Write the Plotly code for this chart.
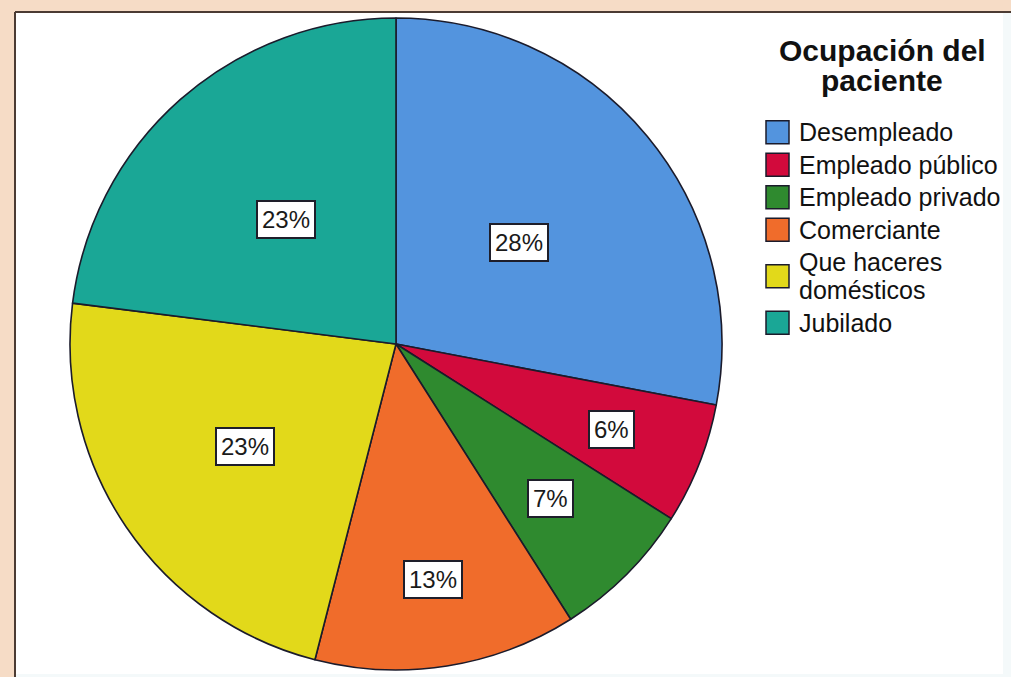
import math
import plotly.graph_objects as go

# Occupation of the patients (percent of total)
categories = ["Desempleado", "Empleado público", "Empleado privado",
              "Comerciante", "Que haceres\ndomésticos", "Jubilado"]
values = [28, 6, 7, 13, 23, 23]
legend_title = ["Ocupación del", "paciente"]

colors = ["#5394de", "#d20a3c", "#2f8a2f", "#f06c2b", "#e2d91a", "#1aa796"]
# radial placement of each percentage box, as a fraction of the pie radius
label_radius = [0.49, 0.71, 0.67, 0.73, 0.56, 0.51]

W, H = 1011, 677
CX, CY, R = 396, 344, 326  # pie centre / radius in pixels (y measured downward)


def px(x):
    return x / W


def py(y):
    return 1 - y / H


fig = go.Figure()
fig.add_trace(go.Pie(
    labels=[c.replace("\n", " ") for c in categories],
    values=values,
    sort=False,
    direction="clockwise",
    rotation=0,
    marker=dict(colors=colors, line=dict(color="#1b1b2b", width=1.6)),
    textinfo="none",
    hoverinfo="label+percent",
    showlegend=False,
    domain=dict(x=[px(CX - R), px(CX + R)], y=[py(CY + R), py(CY - R)]),
))

shapes = []
annotations = []

# page frame: peach surround, dark rule on top/left, white plotting area
shapes.append(dict(type="rect", xref="paper", yref="paper", x0=0, x1=1, y0=0, y1=1,
                   fillcolor="#f6dcc6", line=dict(width=0), layer="below"))
shapes.append(dict(type="rect", xref="paper", yref="paper", x0=px(15), x1=1, y0=0, y1=py(12),
                   fillcolor="#f4f9fa", line=dict(width=0), layer="below"))
shapes.append(dict(type="rect", xref="paper", yref="paper", x0=px(16), x1=px(1003), y0=py(674), y1=py(13),
                   fillcolor="#ffffff", line=dict(width=0), layer="below"))
shapes.append(dict(type="line", xref="paper", yref="paper", x0=px(15), x1=px(15), y0=0, y1=py(12),
                   line=dict(color="#4b3b33", width=2), layer="below"))
shapes.append(dict(type="line", xref="paper", yref="paper", x0=px(15), x1=1, y0=py(12), y1=py(12),
                   line=dict(color="#4b3b33", width=2), layer="below"))

# percentage boxes at each slice's mid-angle
total = sum(values)
cum = 0
for v, rf in zip(values, label_radius):
    a = 2 * math.pi * (cum + v / 2) / total
    cum += v
    x = CX + R * rf * math.sin(a)
    y = CY - R * rf * math.cos(a)
    annotations.append(dict(
        x=px(x), y=py(y), xref="paper", yref="paper", text=f"{v}%", showarrow=False,
        font=dict(family="Liberation Sans, Arial", size=24, color="#1a1a1a"),
        bgcolor="#ffffff", bordercolor="#1e1e2a", borderwidth=2, borderpad=4,
        xanchor="center", yanchor="middle"))

# legend title
for i, line in enumerate(legend_title):
    annotations.append(dict(
        x=px(882), y=py(50 + 30 * i), xref="paper", yref="paper", text=line, showarrow=False,
        font=dict(family="Liberation Sans, Arial", size=30, color="#111111", weight="bold"),
        xanchor="center", yanchor="middle"))

# legend entries
ITEM_H, EXTRA_LINE = 32.5, 28
top = 116
for cat, col in zip(categories, colors):
    lines = cat.split("\n")
    h = ITEM_H + EXTRA_LINE * (len(lines) - 1)
    first = top + ITEM_H / 2
    for j, ln in enumerate(lines):
        annotations.append(dict(
            x=px(797), y=py(first + EXTRA_LINE * j), xref="paper", yref="paper", text=ln,
            showarrow=False, font=dict(family="Liberation Sans, Arial", size=25, color="#111111"),
            xanchor="left", yanchor="middle"))
    mid = top + h / 2
    shapes.append(dict(type="rect", xref="paper", yref="paper",
                       x0=px(766), x1=px(789), y0=py(mid + 11.5), y1=py(mid - 11.5),
                       fillcolor=col, line=dict(color="#1b1b2b", width=1.5)))
    top += h

fig.update_layout(
    width=W, height=H,
    margin=dict(l=0, r=0, t=0, b=0),
    paper_bgcolor="#ffffff",
    plot_bgcolor="#ffffff",
    shapes=shapes,
    annotations=annotations,
)

fig.write_html("out.html")
